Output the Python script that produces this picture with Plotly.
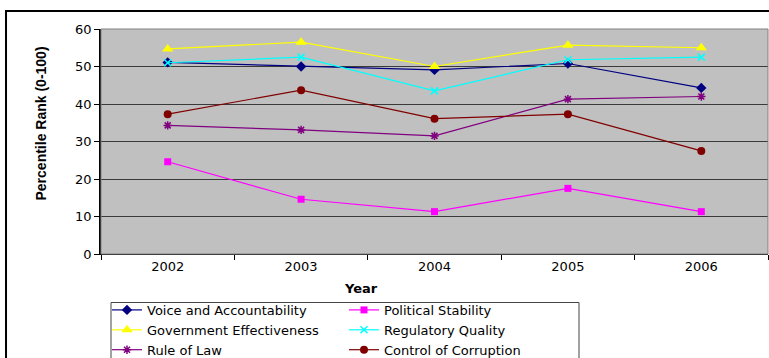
import plotly.graph_objects as go

years = ["2002", "2003", "2004", "2005", "2006"]
voice = [51.1, 50.0, 49.1, 50.8, 44.3]
political = [24.6, 14.6, 11.3, 17.5, 11.3]
gov_eff = [54.7, 56.5, 50.0, 55.7, 55.0]
reg_quality = [51.0, 52.5, 43.5, 51.8, 52.5]
rule_law = [34.3, 33.1, 31.5, 41.3, 42.0]
corruption = [37.3, 43.7, 36.1, 37.3, 27.5]

series = [
    ("Voice and Accountability", voice, "#000080", "diamond", 8),
    ("Political Stability", political, "#FF00FF", "square", 7),
    ("Government Effectiveness", gov_eff, "#FFFF00", "triangle-up", 10),
    ("Regulatory Quality", reg_quality, "#00FFFF", "x-thin", 7),
    ("Rule of Law", rule_law, "#800080", "asterisk", 7),
    ("Control of Corruption", corruption, "#800000", "circle", 8),
]

WIDE = "DejaVu Sans, Verdana, sans-serif"

fig = go.Figure()
for name, vals, col, sym, sz in series:
    fig.add_trace(go.Scatter(
        x=years, y=vals, name=name, mode="lines+markers",
        line=dict(color=col, width=1.2),
        marker=dict(symbol=sym, size=sz, color=col,
                    line=dict(color=col, width=1.5 if sym in ("x-thin", "asterisk") else 0)),
    ))

fig.update_layout(
    width=769, height=358,
    margin=dict(l=101, r=1, t=29, b=104, autoexpand=False),
    paper_bgcolor="white", plot_bgcolor="#C0C0C0",
    font=dict(family=WIDE, size=13, color="black"),
    showlegend=True,
    legend=dict(
        orientation="h", x=0.009, xanchor="left", y=-0.182, yanchor="top",
        entrywidth=192, entrywidthmode="pixels",
        borderwidth=0, bgcolor="rgba(0,0,0,0)",
        font=dict(size=13, family=WIDE),
        traceorder="normal", tracegroupgap=0,
    ),
    xaxis=dict(
        type="category", range=[-0.5, 4.5], showgrid=False,
        showline=True, linecolor="black", linewidth=1,
        ticks="outside", ticklen=5, tickcolor="black", tickson="boundaries",
        tickfont=dict(size=13, family=WIDE),
    ),
    yaxis=dict(
        range=[0, 60], dtick=10, showgrid=True, gridcolor="#3a3a3a", gridwidth=1,
        showline=True, linecolor="black", linewidth=1.5,
        ticks="outside", ticklen=5, tickcolor="black",
        tickfont=dict(size=13, family=WIDE), zeroline=False,
    ),
    shapes=[
        dict(type="rect", xref="paper", yref="paper", x0=0, x1=1, y0=0, y1=1,
             line=dict(color="#808080", width=1), layer="above"),
        dict(type="rect", xref="paper", yref="paper", x0=-0.1424, x1=1.05, y0=-1.0, y1=1.08,
             line=dict(color="black", width=2)),
        # legend frame
        dict(type="rect", xref="paper", yref="paper",
             x0=(111 - 101) / 667, x1=(579 - 101) / 667,
             y0=(254 - 362) / 225, y1=(254 - 302.5) / 225,
             line=dict(color="#444", width=1)),
    ],
    annotations=[
        dict(text="<b>Year</b>", xref="paper", yref="paper", x=(361 - 101) / 667, y=-0.155,
             xanchor="center", yanchor="middle", showarrow=False,
             font=dict(size=13, family=WIDE)),
        dict(text="<b>Percentile Rank (0-100)</b>", xref="paper", yref="paper",
             x=(40 - 101) / 667, y=(254 - 123.5) / 225, textangle=-90,
             xanchor="center", yanchor="middle", showarrow=False,
             font=dict(size=14, family="Arial, Liberation Sans, sans-serif")),
    ],
)

fig.write_html("out.html")
